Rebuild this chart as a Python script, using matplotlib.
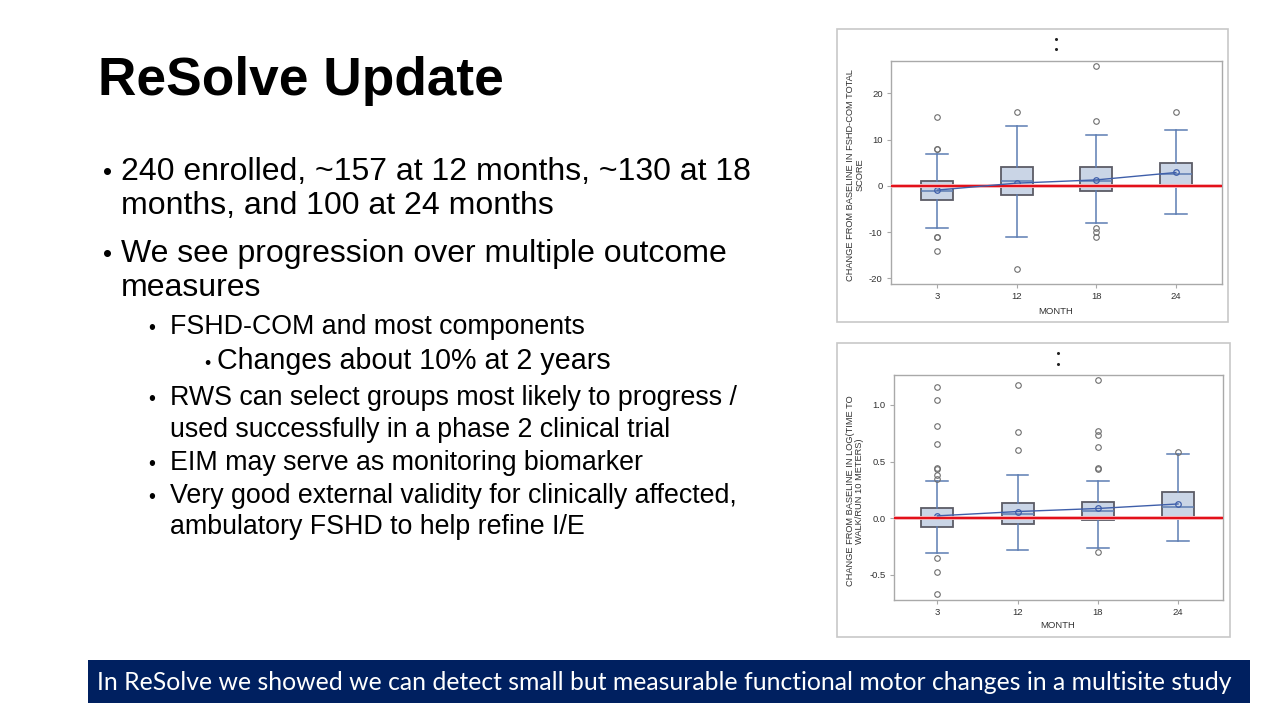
import numpy as np
import matplotlib
matplotlib.use("Agg")
import matplotlib.pyplot as plt
from matplotlib.patches import Rectangle
from matplotlib.lines import Line2D

plt.rcParams['axes.unicode_minus'] = False

# ---------------- data ----------------
months = ['3', '12', '18', '24']

# Chart 1: change from baseline in FSHD-COM total score
com_q1 = [-3, -2, -1, 0]
com_med = [-1, 1, 1, 2.5]
com_q3 = [1, 4, 4, 5]
com_whislo = [-9, -11, -8, -6]
com_whishi = [7, 13, 11, 12]
com_mean = [-0.9, 0.6, 1.3, 2.9]
com_fliers = [[8, 8, 15, -11, -11, -14], [16, -18], [26, 14, -9, -10, -11], [16]]
com_yticks = [-20, -10, 0, 10, 20]

# Chart 2: change from baseline in log(time to walk/run 10 meters)
walk_q1 = [-0.08, -0.05, -0.02, 0.0]
walk_med = [0.0, 0.04, 0.065, 0.10]
walk_q3 = [0.085, 0.135, 0.14, 0.235]
walk_whislo = [-0.305, -0.285, -0.26, -0.2]
walk_whishi = [0.325, 0.385, 0.325, 0.565]
walk_mean = [0.02, 0.058, 0.085, 0.125]
walk_fliers = [[1.16, 1.045, 0.815, 0.655, 0.44, 0.43, 0.385, 0.345, -0.35, -0.475, -0.67],
               [1.175, 0.765, 0.60],
               [1.22, 0.77, 0.735, 0.625, 0.44, 0.435, -0.30],
               [0.58]]
walk_yticks = [-0.5, 0.0, 0.5, 1.0]

title = "ReSolve Update"
bullets = [
    (1, ["240 enrolled, ~157 at 12 months, ~130 at 18", "months, and 100 at 24 months"]),
    (1, ["We see progression over multiple outcome", "measures"]),
    (2, ["FSHD-COM and most components"]),
    (3, ["Changes about 10% at 2 years"]),
    (2, ["RWS can select groups most likely to progress /", "used successfully in a phase 2 clinical trial"]),
    (2, ["EIM may serve as monitoring biomarker"]),
    (2, ["Very good external validity for clinically affected,", "ambulatory FSHD to help refine I/E"]),
]
banner = "In ReSolve we showed we can detect small but measurable functional motor changes in a multisite study"

# ---------------- figure ----------------
W, H = 1280, 720
fig = plt.figure(figsize=(W / 100, H / 100), dpi=100)
fig.patch.set_facecolor('white')
renderer = fig.canvas.get_renderer()


def fx(x):
    return x / W


def fy(y):
    return 1 - y / H


def fit(t, width):
    bb = t.get_window_extent(renderer)
    t.set_fontsize(t.get_fontsize() * width / bb.width)
    return t.get_fontsize()


SANS = ['Liberation Sans', 'DejaVu Sans']

# Title
tt = fig.text(fx(98), fy(95), title, fontsize=35, fontweight='bold', family=SANS,
              color='black', va='baseline', ha='left')
fit(tt, 405)

# Bullets
level_x = {1: (103, 121), 2: (148, 170), 3: (204, 217)}
level_ref = {1: ("240 enrolled, ~157 at 12 months, ~130 at 18", 629),
             2: ("RWS can select groups most likely to progress /", 566),
             3: ("Changes about 10% at 2 years", 392)}
level_size = {}
for lv, (s, w) in level_ref.items():
    tmp = fig.text(0, 0, s, fontsize=20, family=SANS)
    level_size[lv] = fit(tmp, w)
    tmp.remove()
bullet_scale = {1: 0.8, 2: 0.75, 3: 0.62}

baselines = [[180, 214], [262, 296], [334], [369], [405, 437], [470], [503, 534]]
for (lv, lines), bls in zip(bullets, baselines):
    bx, tx = level_x[lv]
    fs = level_size[lv]
    fig.text(fx(bx), fy(bls[0]), "\u2022", fontsize=fs * bullet_scale[lv], family=SANS,
             color='black', va='baseline', ha='left')
    for line, bl in zip(lines, bls):
        fig.text(fx(tx), fy(bl), line, fontsize=fs, family=SANS, color='black',
                 va='baseline', ha='left')

# Banner
fig.add_artist(Rectangle((fx(88), fy(703)), fx(1250 - 88), (703 - 660) / H,
                         transform=fig.transFigure, facecolor='#002060', edgecolor='none'))
bt = fig.text(fx(97), fy(682), banner, fontsize=17, family=['Lato', 'DejaVu Sans'],
              color='white', va='center', ha='left')
fit(bt, 1133)

# ---------------- charts ----------------
BOX_FACE = '#CAD5E6'
BOX_EDGE = '#5C5C66'
WHISK = '#5D7DB3'
MEANC = '#3F5FAA'
FLIER = '#6E6E6E'
TICKC = '#333333'
SPINE = '#A9A9A9'


def make_chart(frame, axbox, q1, med, q3, wlo, whi, mean, fliers, yticks, ylim, xlim,
               fmt, ylabel, ylab_xy, month_xy, dots_xy):
    # outer frame
    l, t, r, b = frame
    fig.add_artist(Rectangle((fx(l), fy(b)), fx(r - l), (b - t) / H, transform=fig.transFigure,
                             facecolor='white', edgecolor='#C8C8C8', linewidth=1.2, zorder=0))
    al, at, ar, ab = axbox
    ax = fig.add_axes([fx(al), fy(ab), fx(ar - al), (ab - at) / H])
    stats = []
    for i in range(len(months)):
        stats.append(dict(med=med[i], q1=q1[i], q3=q3[i], whislo=wlo[i], whishi=whi[i],
                          mean=mean[i], fliers=np.array(fliers[i]), label=months[i]))
    pos = np.arange(len(months))
    ax.bxp(stats, positions=pos, widths=0.4, capwidths=0.27, patch_artist=True,
           showmeans=True, meanline=False,
           boxprops=dict(facecolor=BOX_FACE, edgecolor=BOX_EDGE, linewidth=1.3),
           whiskerprops=dict(color=WHISK, linewidth=1.1),
           capprops=dict(color=WHISK, linewidth=1.1),
           medianprops=dict(color=WHISK, linewidth=1.1),
           meanprops=dict(marker='o', markerfacecolor='none', markeredgecolor=MEANC,
                          markersize=4, markeredgewidth=0.9),
           flierprops=dict(marker='o', markerfacecolor='none', markeredgecolor=FLIER,
                           markersize=4, markeredgewidth=0.8),
           zorder=2)
    ax.plot(pos, mean, color=MEANC, linewidth=1.0, zorder=5)
    ax.axhline(0, color='#F7B5B8', linewidth=2.8, zorder=3)
    ax.axhline(0, color='#E3101A', linewidth=1.5, zorder=4)
    ax.set_xlim(*xlim)
    ax.set_ylim(*ylim)
    ax.set_yticks(yticks)
    ax.set_yticklabels([fmt(v) for v in yticks])
    ax.set_xticks(pos)
    ax.set_xticklabels(months)
    ax.tick_params(axis='both', labelsize=6.8, colors=SPINE, labelcolor=TICKC,
                   length=3, width=0.8, pad=3)
    for lab in ax.get_xticklabels() + ax.get_yticklabels():
        lab.set_family(SANS)
    for s in ax.spines.values():
        s.set_color(SPINE)
        s.set_linewidth(1.0)
    fig.text(fx(ylab_xy[0]), fy(ylab_xy[1]), ylabel, rotation=90, ha='center', va='center',
             multialignment='center', fontsize=6.7, family=SANS, color=TICKC, linespacing=1.05)
    fig.text(fx(month_xy[0]), fy(month_xy[1]), 'MONTH', ha='center', va='center',
             fontsize=6.8, family=SANS, color=TICKC)
    fig.add_artist(Line2D([fx(dots_xy[0])] * 2, [fy(dots_xy[1]), fy(dots_xy[2])],
                          transform=fig.transFigure, linestyle='none', marker='o',
                          markersize=1.2, color='#222222'))
    return ax


make_chart((837, 29, 1228, 322), (891, 61, 1222, 284),
           com_q1, com_med, com_q3, com_whislo, com_whishi, com_mean, com_fliers,
           com_yticks, (-21.2, 27.0), (-0.58, 3.58), lambda v: f"{v:d}",
           "CHANGE FROM BASELINE IN FSHD-COM TOTAL\nSCORE", (855, 175), (1056, 311),
           (1056, 39, 49))

make_chart((837, 343, 1230, 637), (894, 375, 1223, 600),
           walk_q1, walk_med, walk_q3, walk_whislo, walk_whishi, walk_mean, walk_fliers,
           walk_yticks, (-0.724, 1.265), (-0.54, 3.56), lambda v: f"{v:.1f}",
           "CHANGE FROM BASELINE IN LOG(TIME TO\nWALK/RUN 10 METERS)", (855, 491), (1058, 626),
           (1058, 353, 364))

fig.savefig('out.png', dpi=100)
